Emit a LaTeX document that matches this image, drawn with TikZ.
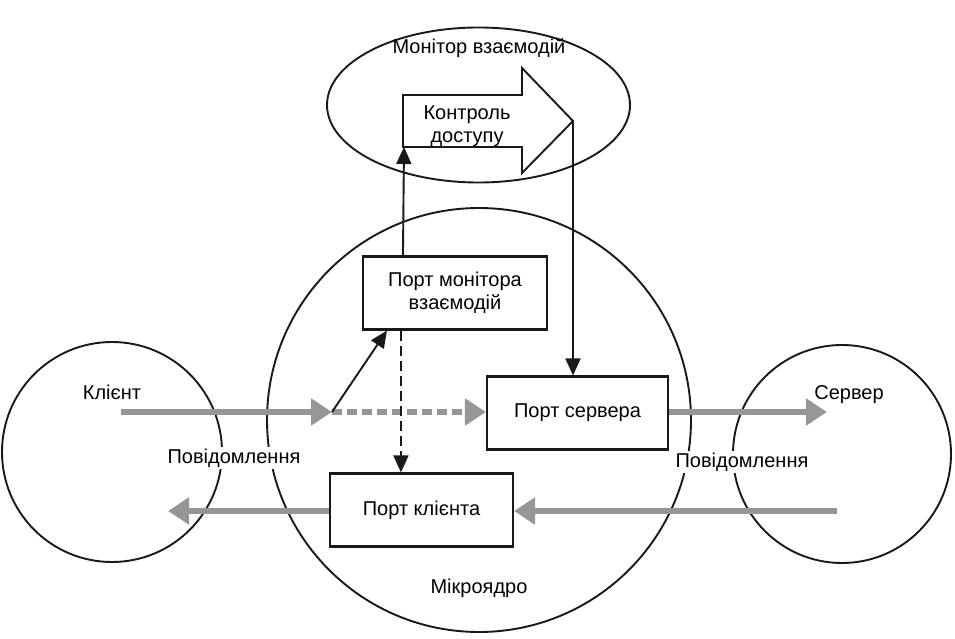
\documentclass[tikz,border=0pt]{standalone}
\usepackage{fontspec}
\setmainfont{Liberation Sans}
\usetikzlibrary{arrows.meta,shapes.geometric,calc}
\definecolor{msggray}{HTML}{969696}
\begin{document}
\begin{tikzpicture}[x=1pt,y=-1pt,
  every node/.style={font=\fontsize{20}{23}\selectfont, text=black},
  line/.style={draw=black!90, line width=1.9pt},
  portbox/.style={draw=black!90, line width=2.1pt, fill=white, minimum height=73pt, inner sep=0pt},
  blackarrow/.style={line, -{Triangle[length=17pt,width=15pt]}},
  msg/.style={draw=msggray, line width=5.5pt, -{Triangle[length=21pt,width=26pt,fill=msggray]}},
  msgdash/.style={msg, dash pattern=on 10pt off 5pt},
  gap/.style={fill=white, inner sep=2pt}
]
\useasboundingbox (0,0) rectangle (955,639);

% circles and ellipse
\node[line, circle, minimum size=424pt, inner sep=0pt] (mk) at (479,420) {};
\node[line, circle, minimum size=220pt, inner sep=0pt] (cl) at (112,452) {};
\node[line, circle, minimum size=218pt, inner sep=0pt] (sv) at (842,454) {};
\node[line, ellipse, minimum width=303pt, minimum height=155pt, inner sep=0pt] (mon) at (478.5,105) {};

% block arrow (access control)
\coordinate (bal) at (404,147);
\coordinate (batip) at (573,121);
\draw[line, fill=white] (403,95) -- (522,95) -- (522,68) -- (batip) -- (522,173) -- (522,147) -- (403,147) -- cycle;
\node[align=center] (ac) at (467,126) {Контроль\\доступу};

% ports
\node[portbox, minimum width=184pt, align=center] (pm) at (455,293) {Порт монітора\\взаємодій};
\node[portbox, minimum width=181pt] (ps) at (577.5,413) {Порт сервера};
\node[portbox, minimum width=183pt] (pc) at (421.5,510) {Порт клієнта};

% labels
\node (monlbl) at (479,48) {Монітор взаємодій};
\node (cllbl) at (112,392) {Клієнт};
\node (svlbl) at (849,395) {Сервер};
\node (mklbl) at (479,588) {Мікроядро};

% message arrows
\coordinate (clstart) at (121,412);
\coordinate (split) at (332,412);
\coordinate (svtip) at (827,412);
\coordinate (svstart) at (837,511);
\coordinate (cltip) at (168,511);
\draw[msg] (clstart) -- (split);
\draw[msgdash] (split) -- (ps.west |- split);
\draw[msg] (ps.east |- svtip) -- (svtip);
\draw[msg] (svstart) -- (pc.east |- svstart);
\draw[msg] (pc.west |- cltip) -- (cltip);

% control arrows
\draw[blackarrow] (split) -- ([xshift=25pt]pm.south west);
\draw[blackarrow] ([xshift=41pt]pm.north west) -- (bal);
\draw[blackarrow] (batip) -- (batip |- ps.north);
\draw[blackarrow, dash pattern=on 10pt off 5pt] ([xshift=39pt]pm.south west) -- ([xshift=39pt]pm.south west |- pc.north);

% message labels (break the circles)
\node[gap] (msgl) at (234,458) {Повідомлення};
\node[gap] (msgr) at (742,462) {Повідомлення};
\end{tikzpicture}
\end{document}
